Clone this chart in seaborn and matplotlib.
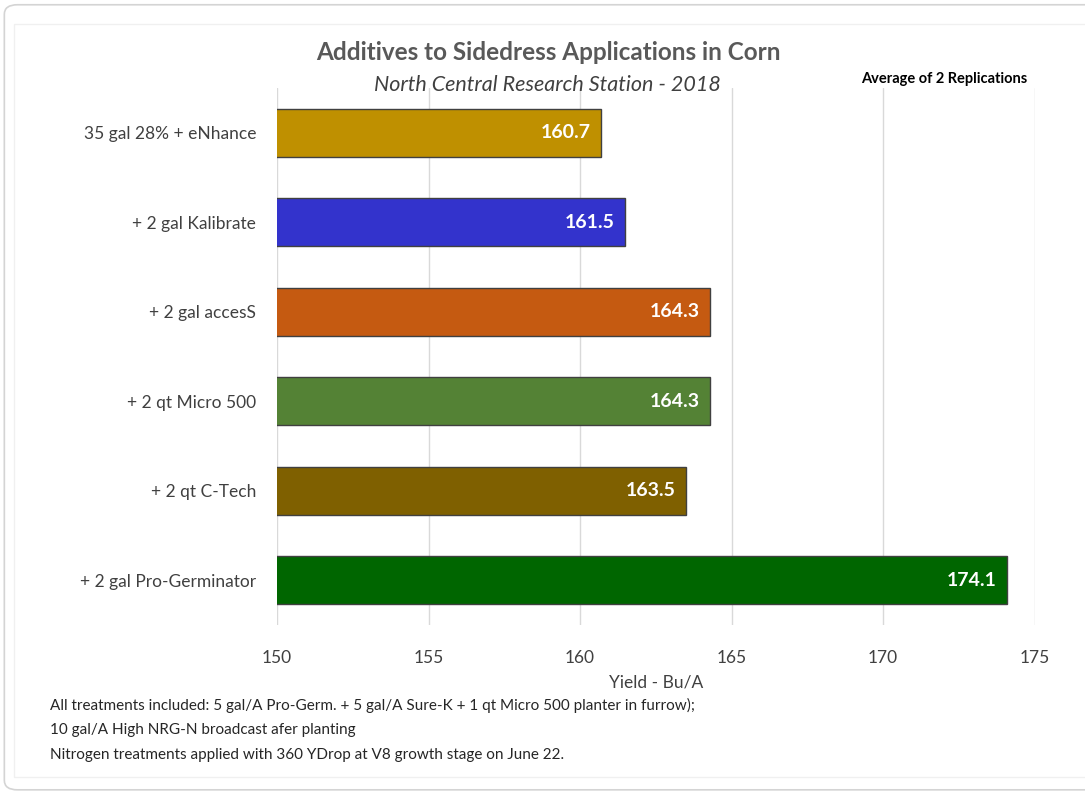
import matplotlib
matplotlib.use("Agg")
import matplotlib.pyplot as plt
from matplotlib.patches import FancyBboxPatch, Rectangle
import pandas as pd
import seaborn as sns

# data
treatments = ["35 gal 28% + eNhance", "+ 2 gal Kalibrate", "+ 2 gal accesS",
              "+ 2 qt Micro 500", "+ 2 qt C-Tech", "+ 2 gal Pro-Germinator"]
yields = [160.7, 161.5, 164.3, 164.3, 163.5, 174.1]
bar_colors = ["#BF9000", "#3333CC", "#C55A11", "#548235", "#7F6000", "#006600"]
x_ticks = [150, 155, 160, 165, 170, 175]

notes = ["All treatments included: 5 gal/A Pro-Germ. + 5 gal/A Sure-K + 1 qt Micro 500 planter in furrow);",
         "10 gal/A High NRG-N broadcast afer planting",
         "Nitrogen treatments applied with 360 YDrop at V8 growth stage on June 22."]

sns.set_theme(style="white")
plt.rcParams["font.family"] = ["Lato", "DejaVu Sans"]

df = pd.DataFrame({"treatment": treatments, "yield": yields})

fig = plt.figure(figsize=(10.85, 7.93), dpi=100)
# page frame
fig.patches.append(FancyBboxPatch((0.004, 0.004), 1.2, 0.99, boxstyle="round,pad=0,rounding_size=0.012",
                                  transform=fig.transFigure, fc="none", ec="#D4D4D4", lw=1.2, zorder=-2))
fig.patches.append(Rectangle((0.013, 0.02), 1.0, 0.95, transform=fig.transFigure,
                             fc="none", ec="#F0F0F0", lw=1, zorder=-2))

ax = fig.add_axes([0.2553, 0.2119, 0.6982, 0.6771])
sns.barplot(data=df, y="treatment", x="yield", hue="treatment", palette=bar_colors,
            saturation=1, legend=False, orient="h", width=0.54, edgecolor="#404040",
            linewidth=1, ax=ax, zorder=3)

ax.set_xlim(150, 175)
ax.set_xticks(x_ticks)
ax.set_xticklabels([str(t) for t in x_ticks], fontsize=12.5, color="#404040")
ax.tick_params(axis="x", length=0, pad=18)
ax.tick_params(axis="y", length=0, pad=15, labelsize=12.5, labelcolor="#404040")
ax.xaxis.grid(True, color="#D9D9D9", lw=1, zorder=0)
ax.yaxis.grid(False)
for s in ax.spines.values():
    s.set_visible(False)
ax.set_ylabel("")
ax.set_xlabel("Yield - Bu/A", fontsize=12.5, color="#404040", labelpad=6)

for i, v in enumerate(yields):
    ax.text(v - 0.35, i, f"{v:.1f}", ha="right", va="center", color="white",
            fontsize=14, fontweight="bold", zorder=4)

fig.text(0.505, 0.934, "Additives to Sidedress Applications in Corn", ha="center", va="center",
         fontsize=17.5, fontweight="bold", color="#595959")
fig.text(0.505, 0.893, "North Central Research Station - 2018", ha="center", va="center",
         fontsize=15.5, style="italic", color="#404040")
fig.text(0.87, 0.900, "Average of 2 Replications", ha="center", va="center",
         fontsize=10.5, fontweight="bold", color="black")

for k, line in enumerate(notes):
    fig.text(0.046, 0.110 - k * 0.031, line, ha="left", va="center",
             fontsize=11, color="#262626")

fig.savefig("out.png", dpi=100)
